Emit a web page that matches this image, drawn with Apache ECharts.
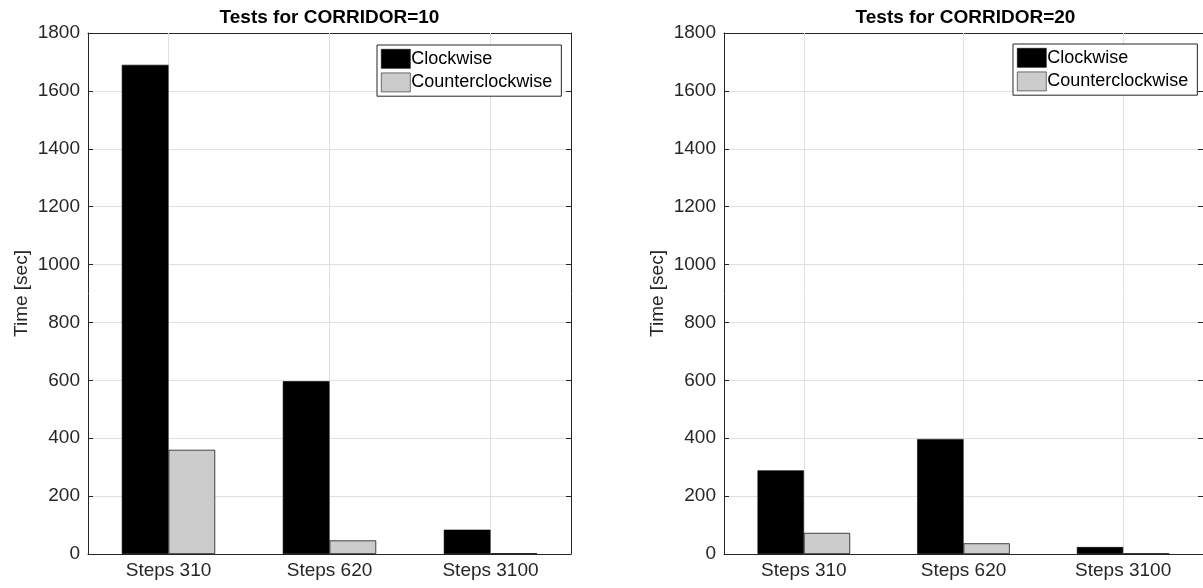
<!DOCTYPE html>
<html>
<head>
<meta charset="utf-8">
<title>Tests for CORRIDOR</title>
<script src="https://cdn.jsdelivr.net/npm/echarts@6/dist/echarts.min.js"></script>
<style>
  html, body { margin: 0; padding: 0; background: #ffffff; }
  #chart { width: 1203px; height: 588px; }
</style>
</head>
<body>
<div id="chart"></div>
<script>
// Run times (seconds) per step count, for two corridor widths
const categories = ['Steps 310', 'Steps 620', 'Steps 3100'];
const seriesNames = ['Clockwise', 'Counterclockwise'];
const clockwise10 = [1690, 597, 84];
const counterclockwise10 = [360, 47, 3];
const clockwise20 = [289, 397, 24];
const counterclockwise20 = [73, 37, 2];
const titles = ['Tests for CORRIDOR=10', 'Tests for CORRIDOR=20'];
const yMin = 0, yMax = 1800, yStep = 200;

const FONT = '"Liberation Sans", Arial, Helvetica, sans-serif';
const INK = '#262626';
const GRID_LINE = '#e0e0e0';

const plots = [
  { left: 88, cw: clockwise10, ccw: counterclockwise10, title: titles[0], legendLeft: 377, legendTop: 45 },
  { left: 724, cw: clockwise20, ccw: counterclockwise20, title: titles[1], legendLeft: 1013, legendTop: 44 }
];
const PLOT_W = 483, PLOT_TOP = 33, PLOT_H = 521;

const grid = [], xAxis = [], yAxis = [], series = [], title = [], legend = [];

plots.forEach((p, i) => {
  grid.push({ left: p.left, top: PLOT_TOP, width: PLOT_W, height: PLOT_H, containLabel: false });

  title.push({
    text: p.title,
    left: p.left + PLOT_W / 2,
    top: 8,
    textAlign: 'center',
    padding: 0,
    textStyle: { fontFamily: FONT, fontSize: 19, fontWeight: 'bold', color: '#000' }
  });

  const tick = { show: true, inside: true, length: 5, alignWithLabel: true, lineStyle: { color: INK, width: 1 } };
  const line = { show: true, onZero: false, lineStyle: { color: INK, width: 1 } };

  // bottom category axis
  xAxis.push({
    gridIndex: i, type: 'category', position: 'bottom', data: categories,
    axisLine: line, axisTick: tick,
    axisLabel: { fontFamily: FONT, fontSize: 19, color: INK, margin: 7 },
    splitLine: { show: false }
  });
  // top edge of the box
  xAxis.push({
    gridIndex: i, type: 'category', position: 'top', data: categories,
    axisLine: line, axisTick: tick, axisLabel: { show: false }, splitLine: { show: false }
  });
  // left value axis
  yAxis.push({
    gridIndex: i, type: 'value', position: 'left', min: yMin, max: yMax, interval: yStep,
    name: 'Time [sec]', nameLocation: 'middle', nameGap: 57, nameRotate: 90,
    nameTextStyle: { fontFamily: FONT, fontSize: 19, color: INK },
    axisLine: line, axisTick: { show: true, inside: true, length: 5, lineStyle: { color: INK } },
    axisLabel: { fontFamily: FONT, fontSize: 19, color: INK, margin: 8, formatter: v => String(v) },
    splitLine: { show: true, lineStyle: { color: GRID_LINE, width: 1 } }
  });
  // right edge of the box
  yAxis.push({
    gridIndex: i, type: 'value', position: 'right', min: yMin, max: yMax, interval: yStep,
    axisLine: line, axisTick: { show: true, inside: true, length: 5, lineStyle: { color: INK } },
    axisLabel: { show: false }, splitLine: { show: false }
  });

  const xIdx = i * 2, yIdx = i * 2;

  // vertical grid lines through the category centres, kept under the legend
  series.push({
    type: 'line', xAxisIndex: xIdx, yAxisIndex: yIdx, data: [], z: 1, silent: true,
    markLine: {
      z: 1, silent: true, symbol: ['none', 'none'], animation: false,
      label: { show: false },
      lineStyle: { color: GRID_LINE, type: 'solid', width: 1 },
      data: categories.map(c => ({ xAxis: c }))
    }
  });

  series.push({
    name: seriesNames[0], type: 'bar', xAxisIndex: xIdx, yAxisIndex: yIdx,
    data: p.cw, barWidth: '29%', barGap: '0%', z: 3,
    itemStyle: { color: '#000000', borderColor: '#000000', borderWidth: 0.6 }
  });
  series.push({
    name: seriesNames[1], type: 'bar', xAxisIndex: xIdx, yAxisIndex: yIdx,
    data: p.ccw, barWidth: '29%', barGap: '0%', z: 3,
    itemStyle: { color: '#cccccc', borderColor: '#1a1a1a', borderWidth: 0.8 }
  });

  legend.push({
    data: seriesNames, orient: 'vertical', left: p.legendLeft, top: p.legendTop,
    padding: [4, 9, 4, 4], itemGap: 4, itemWidth: 29, itemHeight: 19, z: 10,
    icon: 'rect', borderColor: INK, borderWidth: 1, backgroundColor: '#ffffff',
    selectedMode: false,
    itemStyle: { borderWidth: 0.6 },
    textStyle: { fontFamily: FONT, fontSize: 18, color: '#000', lineHeight: 19, padding: [0, 0, 0, -4] }
  });
});

const chart = echarts.init(document.getElementById('chart'), null, { renderer: 'canvas' });
chart.setOption({
  animation: false,
  backgroundColor: '#ffffff',
  title, legend, grid, xAxis, yAxis, series
});
</script>
</body>
</html>
